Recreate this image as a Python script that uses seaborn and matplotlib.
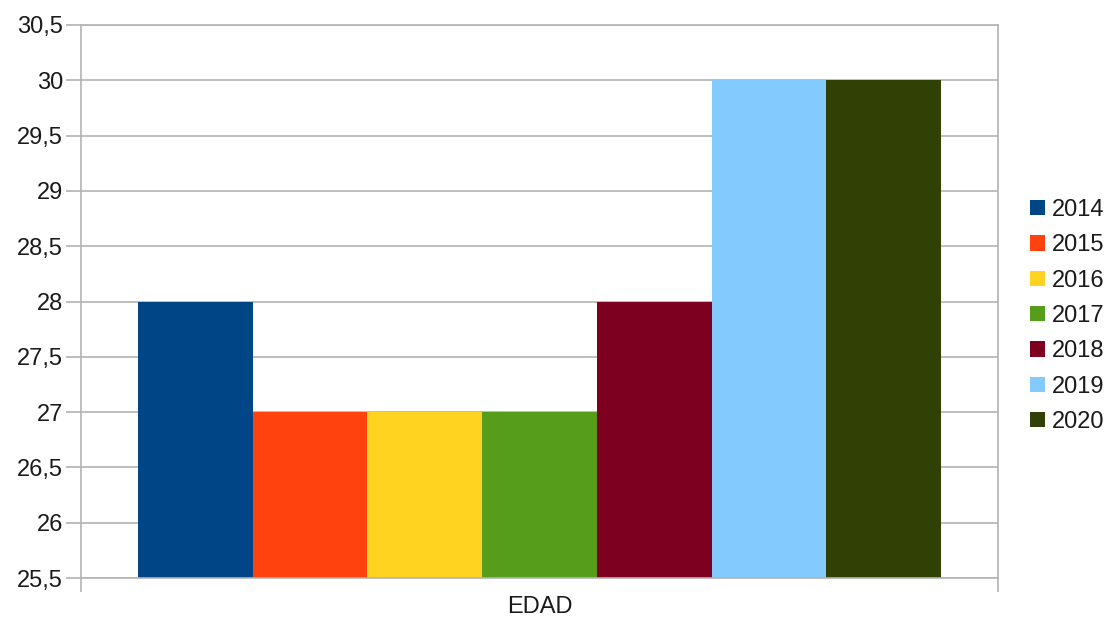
import matplotlib
matplotlib.use("Agg")
import matplotlib.pyplot as plt
import seaborn as sns
import pandas as pd
from matplotlib.ticker import FixedLocator, FuncFormatter
from matplotlib.patches import Patch

category = ["EDAD"]
years = ["2014", "2015", "2016", "2017", "2018", "2019", "2020"]
values = [28, 27, 27, 27, 28, 30, 30]
colors = ["#004586", "#ff420e", "#ffd320", "#579d1c", "#7e0021", "#83caff", "#314004"]
y_ticks = [25.5, 26, 26.5, 27, 27.5, 28, 28.5, 29, 29.5, 30, 30.5]

df = pd.DataFrame({"cat": category * len(years), "year": years, "value": values})

sns.set_theme(style="white")
plt.rcParams["font.family"] = ["Liberation Sans", "DejaVu Sans"]

FS = 17
fig = plt.figure(figsize=(11.12, 6.22), dpi=100)
ax = fig.add_axes([81 / 1112, 1 - 578 / 622, (998 - 81) / 1112, (578 - 25) / 622])

sns.barplot(data=df, x="cat", y="value", hue="year", palette=colors,
            width=0.876, saturation=1, ax=ax, legend=False, linewidth=0)

ax.set_ylim(25.5, 30.5)
ax.set_xlim(-0.5, 0.5)
ax.yaxis.set_major_locator(FixedLocator(y_ticks))
ax.yaxis.set_major_formatter(FuncFormatter(lambda v, p: (f"{v:g}").replace(".", ",")))
ax.grid(axis="y", color="#b3b3b3", linewidth=1.2)
ax.set_axisbelow(True)
ax.set_xlabel("")
ax.set_ylabel("")

gc = "#b3b3b3"
for s in ax.spines.values():
    s.set_color(gc)
    s.set_linewidth(1.2)

ax.tick_params(axis="y", which="major", direction="out", length=11, width=1.2,
               color=gc, labelsize=FS, labelcolor="#1a1a1a", pad=2, left=True)
ax.set_xticks([0])
ax.set_xticklabels(category)
ax.set_xticks([-0.5, 0.5], minor=True)
ax.tick_params(axis="x", which="major", length=0, labelsize=FS, labelcolor="#1a1a1a", pad=13)
ax.tick_params(axis="x", which="minor", direction="out", length=10, width=1.2, color=gc, bottom=True)

handles = [Patch(facecolor=c, edgecolor="none", label=y) for c, y in zip(colors, years)]
leg = fig.legend(handles=handles, loc="center left", bbox_to_anchor=(1018 / 1112, 1 - 316 / 622),
                 frameon=False, fontsize=FS, handlelength=0.63, handleheight=0.63,
                 handletextpad=0.3, labelspacing=0.565, borderpad=0)
for t in leg.get_texts():
    t.set_color("#1a1a1a")

fig.savefig("out.png", dpi=100, facecolor="white")
